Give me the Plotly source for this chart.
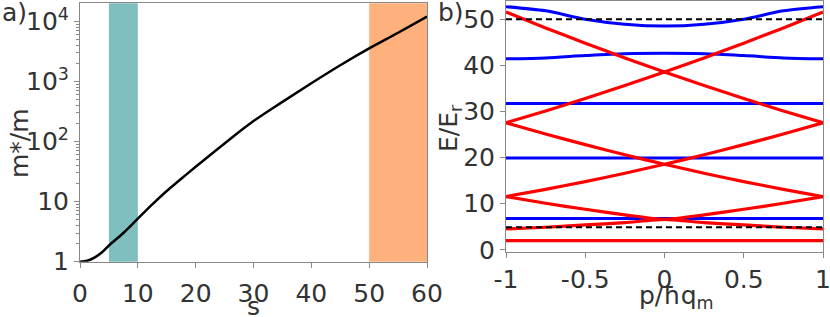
import plotly.graph_objects as go

W, H = 830, 317
FONT = "DejaVu Sans"
TXT = "#333333"
AX = "#888888"

# ---- panel a data ----
s_vals = [0, 1.25, 2.5, 3.75, 5, 7.5, 10, 12.5, 15, 17.5, 20, 25, 30, 35, 40, 45, 50, 55, 60]
mass_ratio = [1.0, 1.04, 1.17, 1.42, 1.86, 3.0, 5.2, 9.0, 15.0, 24.0, 38, 93, 219, 457, 933, 1862, 3548, 6457, 12000]
bands_s = [(5, 10), (50, 60)]
band_colors = ["#80bfbf", "#feb07d"]
y_ticks_a = [1, 10, 100, 1000, 10000]
y_ticklabels_a = ["1", "10", "10<sup>2</sup>", "10<sup>3</sup>", "10<sup>4</sup>"]
x_ticks_a = [0, 10, 20, 30, 40, 50, 60]

# ---- panel b data ----
p_vals = [-1, -0.75, -0.5, -0.25, 0, 0.25, 0.5, 0.75, 1]
blue_bands = [
    [6.8] * 9,
    [19.9] * 9,
    [31.7] * 9,
    [41.4, 41.6, 42.1, 42.5, 42.6, 42.5, 42.1, 41.6, 41.4],
    [52.7, 51.8, 50.0, 48.9, 48.5, 48.9, 50.0, 51.8, 52.7],
]
red_bands = [
    [2.0] * 9,
    [4.55, 4.9, 5.4, 5.9, 6.6, 5.9, 5.4, 4.9, 4.55],
    [11.55, 10.1, 8.8, 7.6, 6.6, 7.6, 8.8, 10.1, 11.55],
    [11.55, 13.1, 14.8, 16.6, 18.55, 20.6, 22.8, 25.1, 27.55],
    [27.55, 25.1, 22.8, 20.6, 18.55, 16.6, 14.8, 13.1, 11.55],
    [27.55, 30.1, 32.8, 35.6, 38.55, 41.6, 44.8, 48.1, 51.55],
    [51.55, 48.1, 44.8, 41.6, 38.55, 35.6, 32.8, 30.1, 27.55],
]
dashed_p = [-1, 1]
dashed_levels = [4.9, 50.0]
x_ticks_b = [-1, -0.5, 0, 0.5, 1]
x_ticklabels_b = ["-1", "-0.5", "0", "0.5", "1"]
y_ticks_b = [0, 10, 20, 30, 40, 50]

fig = go.Figure()

# panel a curve
fig.add_trace(go.Scatter(x=s_vals, y=mass_ratio, mode="lines",
                         line=dict(color="black", width=2.5, shape="spline", smoothing=1.0),
                         xaxis="x", yaxis="y", showlegend=False))

# panel b
for b in blue_bands:
    fig.add_trace(go.Scatter(x=p_vals, y=b, mode="lines",
                             line=dict(color="#0000ff", width=3, shape="spline", smoothing=0.8),
                             xaxis="x2", yaxis="y2", showlegend=False))
for r in red_bands:
    fig.add_trace(go.Scatter(x=p_vals, y=r, mode="lines",
                             line=dict(color="#ff0000", width=3.2, shape="spline", smoothing=0.6),
                             xaxis="x2", yaxis="y2", showlegend=False))
for lev in dashed_levels:
    fig.add_trace(go.Scatter(x=dashed_p, y=[lev, lev], mode="lines",
                             line=dict(color="black", width=2, dash="6px,4px"),
                             xaxis="x2", yaxis="y2", showlegend=False))

shapes = []
for (a, b), c in zip(bands_s, band_colors):
    shapes.append(dict(type="rect", xref="x", yref="y domain", x0=a, x1=b, y0=0, y1=1,
                       fillcolor=c, line=dict(width=0), layer="below"))

tickfont = dict(family=FONT, size=25, color=TXT)
common = dict(showline=True, linecolor=AX, linewidth=1, mirror=True, ticks="outside",
              ticklen=5, tickcolor=AX, showgrid=False, zeroline=False, tickfont=tickfont,
              automargin=False, ticklabeloverflow="allow")

def px(x):
    return x / W

def py(y):
    return 1 - y / H

afont = dict(family=FONT, size=25, color=TXT)

def ann(text, x, y, angle=0, xanchor="center"):
    return dict(text=text, x=px(x), y=py(y), xref="paper", yref="paper", textangle=angle,
                xanchor=xanchor, yanchor="middle", showarrow=False, font=afont)

fig.update_layout(
    width=W, height=H, margin=dict(l=0, r=0, t=0, b=0, autoexpand=False),
    paper_bgcolor="white", plot_bgcolor="white",
    shapes=shapes,
    xaxis=dict(domain=[px(80), px(427)], range=[0, 60], tickvals=x_ticks_a,
               anchor="y", ticklabelstandoff=4, **common),
    yaxis=dict(domain=[py(261.7), py(3.3)], type="log", range=[0, 4.3],
               tickvals=y_ticks_a, ticktext=y_ticklabels_a, anchor="x",
               minor=dict(ticks="outside", ticklen=3, tickcolor=AX,
                          tickvals=[m * 10 ** e for e in range(4) for m in range(2, 10)]),
               **common),
    xaxis2=dict(domain=[px(506), px(823)], range=[-1, 1], tickvals=x_ticks_b,
                ticktext=x_ticklabels_b, anchor="y2", **common),
    yaxis2=dict(domain=[py(251.7), py(0.7)], range=[-0.4, 54], tickvals=y_ticks_b,
                anchor="x2", **common),
    annotations=[
        ann("a)", 0, 13, xanchor="left"),
        ann("b)", 436, 13, xanchor="left"),
        ann("m*/m", 19, 143, angle=-90),
        ann("s", 253, 306),
        ann("E/E<sub>r</sub>", 450, 128, angle=-90),
        ann("p/ħq<sub>m</sub>", 676, 297),
    ],
)

fig.write_html("out.html", config={"displayModeBar": False},
               post_script="document.body.style.margin='0';document.body.style.overflow='hidden';")
